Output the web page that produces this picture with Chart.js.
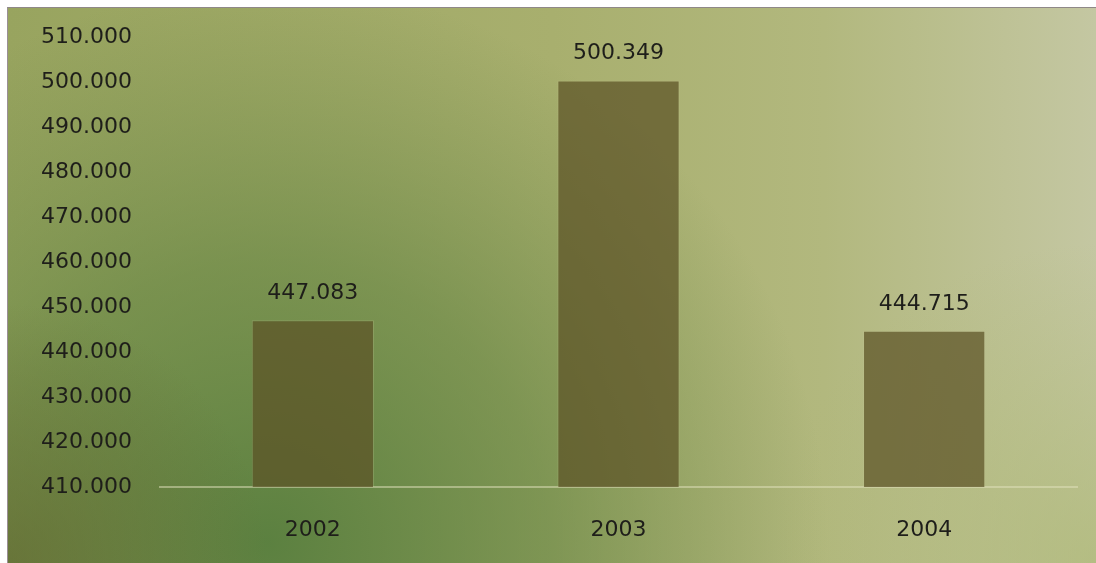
<!DOCTYPE html>
<html>
<head>
<meta charset="utf-8">
<script src="https://cdn.jsdelivr.net/npm/chart.js@4/dist/chart.umd.min.js"></script>
<style>
  html, body { margin: 0; padding: 0; background: #fff; }
  .frame {
    position: absolute; left: 7px; top: 7px;
    width: 1088px; height: 555px;
    border-left: 1px solid #9a8f95; border-top: 1px solid #8f8888;
  }
  canvas { display: block; }
</style>
</head>
<body>
<div class="frame"><canvas id="chart" width="1088" height="555"></canvas></div>
<script>
// dados
const years = ['2002', '2003', '2004'];
const values = [447083, 500349, 444715];
const yMin = 410000;
const yMax = 510000;
const yStep = 10000;

// 510000 -> "510.000"
function fmt(v) {
  return Math.round(v).toString().replace(/\B(?=(\d{3})+(?!\d))/g, '.');
}

const bgPlugin = {
  id: 'bg',
  beforeDraw(chart) {
    const ctx = chart.ctx;
    const w = chart.width, h = chart.height;
    ctx.save();
    const lin = ctx.createLinearGradient(0, 0, w, 0);
    lin.addColorStop(0, '#98a45f');
    lin.addColorStop(0.5, '#a8af6e');
    lin.addColorStop(0.75, '#b2b87e');
    lin.addColorStop(1, '#c4c7a2');
    ctx.fillStyle = lin;
    ctx.fillRect(0, 0, w, h);
    // mancha verde no canto inferior esquerdo
    const rad = ctx.createRadialGradient(260, h - 20, 0, 260, h - 20, 560);
    rad.addColorStop(0, 'rgba(84,124,60,0.9)');
    rad.addColorStop(0.5, 'rgba(92,128,62,0.55)');
    rad.addColorStop(1, 'rgba(100,130,65,0)');
    ctx.fillStyle = rad;
    ctx.fillRect(0, 0, w, h);
    // canto esquerdo mais oliva
    const corner = ctx.createRadialGradient(0, h, 0, 0, h, 260);
    corner.addColorStop(0, 'rgba(95,100,45,0.6)');
    corner.addColorStop(1, 'rgba(95,100,45,0)');
    ctx.fillStyle = corner;
    ctx.fillRect(0, 0, w, h);
    const rb = ctx.createRadialGradient(w, h, 0, w, h, 320);
    rb.addColorStop(0, 'rgba(170,182,110,0.6)');
    rb.addColorStop(1, 'rgba(170,182,110,0)');
    ctx.fillStyle = rb;
    ctx.fillRect(0, 0, w, h);
    ctx.restore();
  }
};

// rótulos de valor acima das barras
const valueLabels = {
  id: 'valueLabels',
  afterDatasetsDraw(chart) {
    const ctx = chart.ctx;
    const meta = chart.getDatasetMeta(0);
    ctx.save();
    ctx.font = '22px "DejaVu Sans"';
    ctx.fillStyle = '#1e1e1a';
    ctx.textAlign = 'center';
    ctx.textBaseline = 'middle';
    meta.data.forEach((bar, i) => {
      ctx.fillText(fmt(values[i]), bar.x, bar.y - 27);
    });
    ctx.restore();
  }
};

new Chart(document.getElementById('chart'), {
  type: 'bar',
  data: {
    labels: years,
    datasets: [{
      data: values,
      backgroundColor: 'rgba(92,82,38,0.72)',
      borderColor: 'rgba(200,200,150,0.25)',
      borderWidth: 1,
      barPercentage: 0.4,
      categoryPercentage: 1.0,
    }]
  },
  options: {
    responsive: false,
    animation: false,
    layout: { padding: { top: 29, right: 19, left: 0, bottom: 0 } },
    plugins: {
      legend: { display: false },
      tooltip: { enabled: false },
    },
    scales: {
      x: {
        grid: { display: false, drawTicks: false },
        border: { display: true, color: 'rgba(225,225,190,0.5)', width: 2 },
        ticks: {
          padding: 30,
          color: '#1e1e1a',
          font: { family: 'DejaVu Sans', size: 22 },
        },
        afterFit(scale) { scale.height = 76; },
      },
      y: {
        min: yMin,
        max: yMax,
        grid: { display: false, drawTicks: false },
        border: { display: false },
        ticks: {
          stepSize: yStep,
          padding: 28,
          color: '#1e1e1a',
          font: { family: 'DejaVu Sans', size: 22 },
          callback: (v) => fmt(v),
        },
        afterFit(scale) {
          scale.width = 152;
          scale.paddingTop = 0;
          scale.paddingBottom = 0;
        },
      }
    }
  },
  plugins: [bgPlugin, valueLabels]
});
</script>
</body>
</html>
